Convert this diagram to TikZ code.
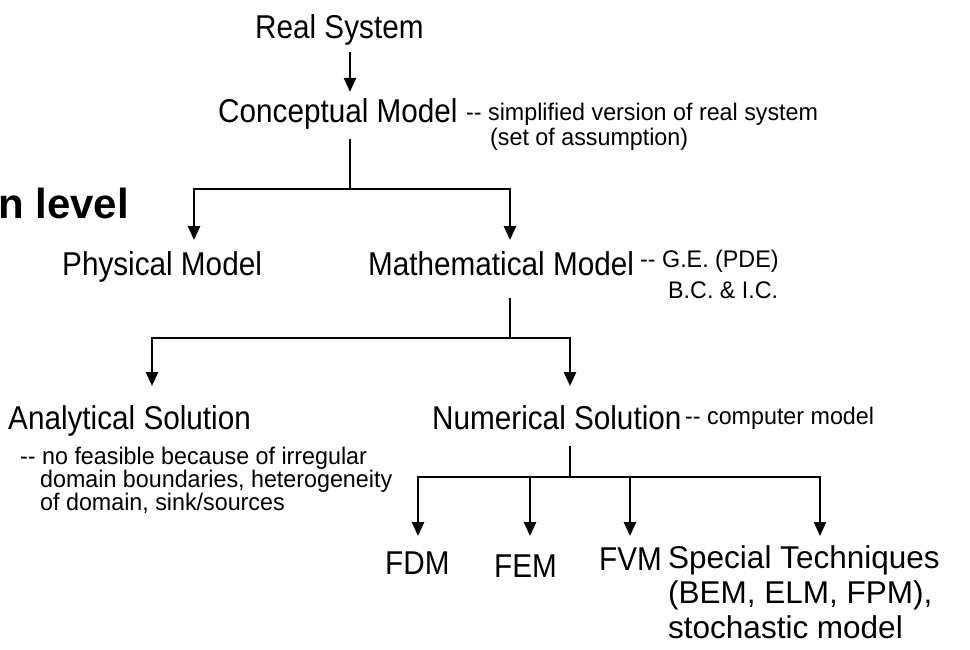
\documentclass[tikz,border=0pt]{standalone}
\usepackage{fontspec}
\setmainfont{Liberation Sans}
\newfontfamily\narrowsans[FakeStretch=0.9]{Liberation Sans}
\newfontfamily\notesans[FakeStretch=0.97]{Liberation Sans}
\usetikzlibrary{arrows.meta}
\begin{document}
\begin{tikzpicture}[x=1pt,y=-1pt,
  lbl/.style={inner sep=0pt, anchor=base west, font=\narrowsans\fontsize{33}{36}\selectfont},
  big/.style={inner sep=0pt, anchor=base west, font=\fontsize{31.5}{36}\selectfont, text height=23pt, text depth=7pt},
  note/.style={inner sep=0pt, anchor=north west, align=left, font=\notesans\fontsize{24}{23}\selectfont},
  head/.style={inner sep=0pt, anchor=base west, font=\fontsize{42}{44}\selectfont\bfseries},
  ln/.style={line width=2.5pt, line join=miter},
  arr/.style={line width=2.5pt, line join=miter, -{Triangle[width=12pt,length=14pt]}}]
\useasboundingbox (0,0) rectangle (970,649);

\node[lbl] (real) at (255,38) {Real System};
\node[lbl] (concept) at (218,122) {Conceptual Model};
\node[note] (cnote) at (466,102.5) {{-}{-} simplified version of real system\\[2pt]\hspace*{24pt}(set of assumption)};
\node[head] (lvl) at (-2,218) {n level};

\node[lbl] (phys) at (62,275) {Physical Model};
\node[lbl] (math) at (368,275) {Mathematical Model};
\node[note] (mnote) at (640,249.5) {{-}{-} G.E. (PDE)\\[8pt]\hspace*{28pt}B.C. \& I.C.};

\node[lbl] (anal) at (8,429) {Analytical Solution};
\node[lbl] (numer) at (432,429) {Numerical Solution};
\node[note] (nnote) at (685,406.5) {{-}{-} computer model};
\node[note] (anote) at (20,446.5) {{-}{-} no feasible because of irregular\\\hspace*{20pt}domain boundaries, heterogeneity\\\hspace*{20pt}of domain, sink/sources};

\node[lbl] (fdm) at (385,574) {FDM};
\node[lbl] (fem) at (494,577) {FEM};
\node[lbl] (fvm) at (599,570) {FVM};
\node[big] (spec) at (668,568) {Special Techniques};
\node[big] (spec2) at (668,603) {(BEM, ELM, FPM),};
\node[big] (spec3) at (668,638) {stochastic model};

% level 1
\coordinate (c0) at (350,60);
\draw[arr, shorten <=7pt, shorten >=6pt] (real.south -| c0) -- (concept.north -| c0);
\coordinate (c1) at (350,189);
\coordinate (t1l) at (194,240);
\coordinate (t1r) at (510,240);
\draw[ln, shorten <=10pt] (concept.south -| c1) -- (c1);
\draw[arr] (c1) -| (t1l);
\draw[arr] (c1) -| (t1r);

% level 2
\coordinate (c2) at (510,338);
\coordinate (t2l) at (152,386);
\coordinate (t2r) at (570,386);
\draw[ln, shorten <=22pt] (math.south -| c2) -- (c2);
\draw[arr] (c2) -| (t2l);
\draw[arr] (c2) -| (t2r);

% level 3
\coordinate (c3) at (570,477);
\coordinate (t3a) at (418,536);
\coordinate (t3b) at (530,536);
\coordinate (t3c) at (630,536);
\coordinate (t3d) at (820,536);
\draw[ln, shorten <=16pt] (numer.south -| c3) -- (c3);
\draw[arr] (c3) -| (t3a);
\draw[arr] (c3) -| (t3b);
\draw[arr] (c3) -| (t3c);
\draw[arr] (c3) -| (t3d);
\end{tikzpicture}
\end{document}
